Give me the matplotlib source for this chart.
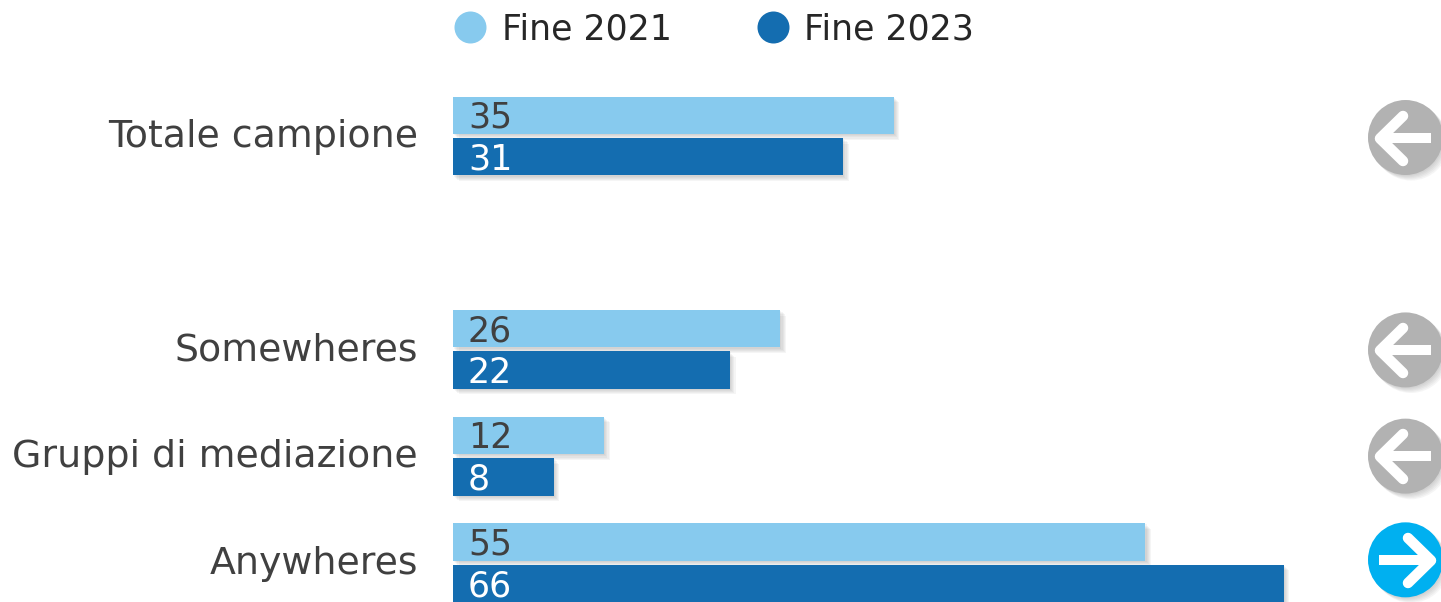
import matplotlib
matplotlib.use("Agg")
import matplotlib.pyplot as plt
import matplotlib.patheffects as pe
from matplotlib.lines import Line2D
from matplotlib.markers import MarkerStyle
from matplotlib.path import Path
from matplotlib.transforms import ScaledTranslation

plt.rcParams['font.family'] = ['DejaVu Sans']

categories = ["Totale campione", "Somewheres", "Gruppi di mediazione", "Anywheres"]
row_positions = [0, 2, 3, 4]
fine_2021 = [35, 26, 12, 55]
fine_2023 = [31, 22, 8, 66]
trend = ["down", "down", "down", "up"]
series_names = ["Fine 2021", "Fine 2023"]

LIGHT = "#87CAEE"
DARK = "#146DB0"
TEXT = "#404040"
GREY = "#B2B2B2"
CYAN = "#00B0F0"

W, H = 1441, 602
PX = 72 / 100  # points per pixel at dpi 100
fig = plt.figure(figsize=(W / 100, H / 100), dpi=100)
ax = fig.add_axes([453 / W, 0, 1 - 453 / W, 1])
ax.set_xlim(0, 78.48)
ax.set_ylim(4.367, -1.2746)
for s in ax.spines.values():
    s.set_visible(False)
ax.set_xticks([])
ax.set_yticks(row_positions)
ax.set_yticklabels(categories, fontsize=27.3, color=TEXT)
ax.tick_params(axis='y', length=0, pad=35 * PX)
lift = ScaledTranslation(0, 3 / 100, fig.dpi_scale_trans)
for lab in ax.get_yticklabels():
    lab.set_transform(lab.get_transform() + lift)


def shadow():
    return [pe.SimplePatchShadow(offset=(o, -o), shadow_rgbFace="#777777", alpha=0.07)
            for o in (4.0, 3.2, 2.4, 1.6, 0.8)] + [pe.Normal()]


BAR_H = 37.5 / 106.7
OFFSET = 20.7 / 106.7
y_light = [p - OFFSET for p in row_positions]
y_dark = [p + OFFSET for p in row_positions]
ax.barh(y_light, fine_2021, height=BAR_H, color=LIGHT, path_effects=shadow())
ax.barh(y_dark, fine_2023, height=BAR_H, color=DARK, path_effects=shadow())

for y, v in zip(y_light, fine_2021):
    ax.annotate(str(v), (0, y), xytext=(15 * PX, 1 * PX), textcoords="offset points",
                va="center_baseline", ha="left", fontsize=25, color=TEXT)
for y, v in zip(y_dark, fine_2023):
    ax.annotate(str(v), (0, y), xytext=(15 * PX, 1 * PX), textcoords="offset points",
                va="center_baseline", ha="left", fontsize=25, color="white")

# arrow marker shapes
shaft_l = Path([(26.5, 0), (-25, 0)])
head_l = Path([(-2.5, -22.5), (-25.5, 0), (-2.5, 22.5)])
BADGE_X = 75.66
badge_shift = [1.5, 0.5, 0, -3]  # px, downward
for y, t, d in zip(row_positions, trend, badge_shift):
    sign = 1 if t == "down" else -1
    yy = y + d / 106.7
    ax.plot([BADGE_X], [yy], marker='o', ms=75 * PX, mfc=GREY if t == "down" else CYAN,
            mew=0, ls='none', path_effects=shadow(), zorder=3)
    sc = MarkerStyle(Path(shaft_l.vertices * [sign, 1]), fillstyle='none', capstyle='butt')
    hd = MarkerStyle(Path(head_l.vertices * [sign, 1]), fillstyle='none', capstyle='round', joinstyle='miter')
    ax.plot([BADGE_X], [yy], marker=sc, ms=53 * PX, mec='white', mew=10 * PX, ls='none', zorder=4)
    ax.plot([BADGE_X], [yy], marker=hd, ms=51 * PX, mec='white', mew=10.5 * PX, ls='none', zorder=4)

handles = [Line2D([], [], marker='o', ls='none', ms=32 * PX, mfc=c, mew=0) for c in (LIGHT, DARK)]
ax.legend(handles, series_names, ncol=2, loc='upper left', bbox_to_anchor=(-0.011, 1.0),
          frameon=False, fontsize=25, labelcolor="#262626", borderpad=0, borderaxespad=0.35,
          handlelength=0.9, handletextpad=0.46, columnspacing=2.46)

fig.savefig("out.png", dpi=100)
